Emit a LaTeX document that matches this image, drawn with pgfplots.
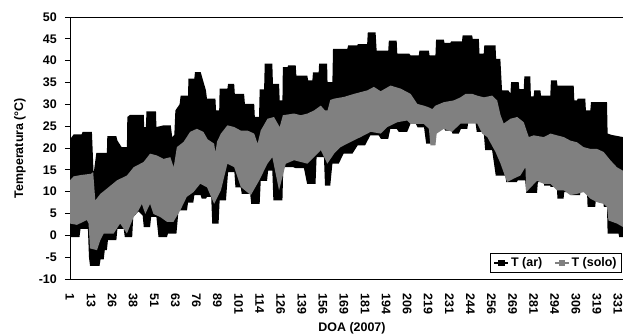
\documentclass[border=0pt]{standalone}
\usepackage{fontspec}
\setmainfont{Liberation Sans}
\usepackage{pgfplots}
\usepackage{pgfplotstable}
\pgfplotsset{compat=1.18}
\usepgfplotslibrary{fillbetween}
\definecolor{soil}{RGB}{128,128,128}

\pgfplotstableread{
x y
0 20.1
0.02 22.1
0.17 23.1
0.55 23.1
0.6 23.7
1.04 23.7
1.12 14.1
1.25 18.9
1.75 18.9
1.77 22.7
2.2 22.7
2.25 21.7
2.45 20.2
2.7 20.2
2.72 27.1
2.85 27.6
3.5 27.6
3.52 24.8
3.6 24.8
3.63 28.4
4.08 28.4
4.1 24.8
4.45 25.2
4.78 25.2
4.85 22.5
4.95 23.0
5.0 28.6
5.2 30.0
5.25 32.0
5.6 32.0
5.62 35.9
5.9 35.9
5.93 37.4
6.2 37.4
6.45 33.2
6.5 31.3
6.9 31.3
6.93 28.6
7.08 28.6
7.1 33.6
7.47 33.6
7.5 34.7
7.79 34.7
7.82 32.4
8.26 32.4
8.3 30.1
8.74 30.1
8.77 27.1
8.97 27.1
9.0 33.4
9.21 33.4
9.24 39.3
9.6 39.3
9.63 34.7
9.92 34.7
9.95 30.9
10.08 30.9
10.1 38.5
10.32 38.5
10.35 38.9
10.71 38.9
10.74 36.6
11.26 36.6
11.3 35.5
11.5 35.5
11.53 37.3
11.8 37.3
11.82 39.3
12.2 39.3
12.22 35.1
12.45 35.1
12.48 42.7
13.16 42.7
13.2 43.5
13.63 43.5
13.66 43.8
14.1 43.8
14.13 46.5
14.5 46.5
14.55 42.3
15.1 42.3
15.13 44.6
15.5 44.6
15.53 41.6
16.1 41.6
16.16 41.2
16.55 41.2
16.58 42.3
17.03 42.3
17.06 41.2
17.34 41.2
17.37 44.8
17.74 44.8
17.77 44.1
18.05 44.1
18.08 44.4
18.6 44.4
18.63 45.8
19.08 45.8
19.11 45.0
19.4 45.0
19.43 41.6
19.63 41.6
19.66 43.5
20.19 43.5
20.22 40.4
20.42 40.4
20.5 33.2
20.8 33.2
20.9 32.5
20.93 35.1
21.29 35.1
21.32 33.5
21.53 33.5
21.56 36.4
21.84 36.4
21.87 31.8
22.0 31.8
22.03 33.2
22.32 33.2
22.35 32.0
22.79 32.0
22.82 35.5
23.1 35.5
23.13 34.3
23.9 34.3
23.93 30.9
24.06 30.9
24.09 31.3
24.45 31.3
24.48 28.6
24.69 28.6
24.72 30.5
25.48 30.5
25.51 23.3
25.7 23.0
26.24 22.5
}\armax

\pgfplotstableread{
x y
0 -0.4
0.45 -0.4
0.5 1.5
0.85 1.5
0.9 -5.0
0.95 -7.0
1.4 -7.0
1.45 -5.5
1.6 -5.5
1.65 -3.4
1.75 -3.4
1.8 -1.1
2.2 -1.1
2.25 1.5
2.55 1.5
2.6 -0.4
2.95 -0.4
3.0 4.2
3.25 5.5
3.45 4.5
3.5 1.9
3.8 1.9
3.85 4.2
4.1 4.2
4.2 -0.4
4.6 -0.4
4.65 0.4
5.05 0.4
5.15 5.7
5.55 5.7
5.6 7.5
5.85 7.5
5.9 9.2
6.2 9.2
6.25 8.4
6.45 8.4
6.5 8.8
6.7 8.8
6.75 2.7
7.05 2.7
7.1 8.0
7.4 8.0
7.5 14.5
7.8 14.5
7.85 11.0
8.1 11.0
8.15 9.5
8.55 9.5
8.6 7.2
9.0 7.2
9.05 12.5
9.35 12.5
9.4 14.8
9.6 14.8
9.65 8.0
10.08 8.0
10.12 15.6
10.6 15.6
10.7 15.4
11.1 15.4
11.25 11.8
11.65 11.8
11.7 17.9
12.05 17.9
12.1 11.4
12.35 11.4
12.45 16.4
12.75 16.4
12.98 18.7
13.4 18.7
13.65 20.6
14.0 20.6
14.25 22.9
14.65 22.9
14.75 22.1
15.1 22.1
15.2 24.4
15.5 24.4
15.6 23.7
16.0 23.7
16.16 25.6
16.4 25.6
16.5 24.7
16.8 24.7
16.9 21.0
17.3 21.0
17.4 24.7
17.74 24.7
17.8 24.0
18.1 24.0
18.15 23.3
18.45 23.3
18.55 24.4
18.85 24.4
18.9 25.9
19.24 25.9
19.3 23.7
19.63 23.7
19.7 19.5
20.03 19.5
20.2 13.7
20.66 13.7
20.7 12.2
21.2 12.2
21.25 12.6
21.6 12.6
21.65 9.7
22.16 9.7
22.2 12.2
22.48 12.2
22.5 11.4
22.79 11.4
22.8 11.1
23.1 11.1
23.13 8.4
23.42 8.4
23.45 9.9
23.74 9.9
23.77 9.2
24.2 9.2
24.23 10.3
24.53 10.3
24.56 6.5
24.92 6.5
24.95 8.0
25.3 8.0
25.33 6.5
25.48 6.5
25.51 0.4
26.03 0.4
26.06 -0.4
26.24 -0.4
}\armin

\pgfplotstableread{
x y
0 12.6
0.17 13.5
0.5 13.8
1.0 14.1
1.1 14.5
1.2 8.0
1.44 9.5
1.75 10.7
2.23 12.6
2.7 13.7
3.02 15.6
3.49 16.8
3.8 18.7
4.12 18.3
4.44 17.5
4.76 17.9
4.92 15.6
5.07 20.2
5.39 21.4
5.7 23.7
6.02 24.4
6.33 23.7
6.53 22.0
6.84 21.0
6.9 19.0
6.98 21.5
7.16 23.3
7.47 25.2
7.79 24.8
8.1 24.0
8.42 24.0
8.74 23.3
8.9 21.0
9.05 24.0
9.37 26.7
9.68 27.1
9.95 24.8
10.1 27.5
10.63 27.9
10.95 27.5
11.27 27.9
11.58 28.6
11.9 29.7
12.1 28.6
12.22 28.6
12.35 31.0
12.53 31.3
13.0 31.7
13.48 32.4
14.11 33.2
14.42 34.0
14.74 33.0
15.21 34.3
15.69 33.6
16.16 32.4
16.48 30.1
16.79 29.7
17.03 29.3
17.19 28.9
17.34 29.7
17.74 30.5
18.21 30.9
18.53 31.6
18.77 32.4
19.08 32.4
19.32 32.0
19.64 31.6
20.03 32.0
20.27 30.9
20.43 27.5
20.58 25.6
20.9 26.7
21.22 27.1
21.53 25.9
21.77 22.5
22.0 22.9
22.48 22.5
22.8 23.3
23.11 22.9
23.43 22.5
23.74 21.7
24.06 21.3
24.37 20.2
24.69 19.8
25.0 19.8
25.32 19.1
25.64 17.2
25.95 15.6
26.24 14.8
}\solomax

\pgfplotstableread{
x y
0 2.7
0.33 2.4
0.8 3.5
0.88 2.7
0.95 -3.0
1.28 -3.4
1.44 -1.1
1.6 0.4
2.07 0.4
2.38 2.7
2.7 0.4
3.02 4.2
3.25 5.7
3.41 7.2
3.57 4.9
3.8 7.2
3.96 4.9
4.28 4.2
4.6 3.1
4.91 3.1
5.23 5.7
5.54 8.8
5.86 9.9
6.18 11.8
6.5 11.0
6.84 7.2
7.16 10.3
7.47 16.4
7.79 15.6
8.1 11.1
8.58 9.2
8.97 12.5
9.37 16.4
9.6 17.9
9.92 10.3
10.24 16.4
10.63 17.2
10.95 16.8
11.27 16.4
11.58 17.9
11.9 19.5
12.21 16.4
12.53 18.7
12.84 20.2
13.32 21.4
13.79 22.5
14.27 23.7
14.74 23.3
15.06 24.8
15.53 25.9
16.0 26.3
16.16 25.5
16.79 25.5
17.03 24.4
17.1 20.6
17.34 20.6
17.4 23.3
17.74 24.4
18.13 23.7
18.53 25.6
18.85 25.6
19.32 25.6
19.56 23.3
19.8 22.5
20.19 19.1
20.43 16.4
20.74 12.2
21.06 13.0
21.37 13.7
21.61 15.6
21.65 9.9
22.16 12.5
22.48 11.8
22.8 11.8
23.11 10.3
23.43 10.3
23.74 9.2
24.06 9.5
24.37 9.9
24.69 8.4
25.0 7.6
25.32 7.2
25.48 6.5
25.55 3.4
25.95 2.7
26.24 1.9
}\solomin

\begin{document}
\begin{tikzpicture}
\begin{axis}[
  at={(0,0)}, anchor=south west,
  width=553bp, height=262bp, scale only axis,
  xmin=0, xmax=26.24, ymin=-10, ymax=50,
  axis x line*=box, axis y line*=left,
  axis line style={-, black, line width=0.9bp},
  xtick={0,...,26},
  xticklabels={1,13,26,38,51,63,76,89,101,114,126,139,156,169,181,194,206,219,231,244,256,269,281,294,306,319,331},
  xtick style={draw=none},
  ytick={-10,-5,...,50},
  tick align=outside,
  major tick length=5bp,
  ytick style={black, line width=0.9bp},
  yticklabel pos=left, xticklabel pos=lower,
  /pgf/number format/assume math mode=true,
  tick label style={font=\bfseries\fontsize{12.5}{13}\selectfont},
  yticklabel style={inner sep=0pt, anchor=east},
  yticklabel shift=8bp,
  xticklabel style={rotate=-90, anchor=west, inner sep=0pt},
  xticklabel shift=9bp,
  xlabel={DOA (2007)}, ylabel={Temperatura (°C)},
  every axis x label/.style={at={(axis description cs:0.5,0)}, yshift=-49bp, xshift=5.5bp, anchor=center, font=\bfseries\fontsize{12.5}{14}\selectfont},
  every axis y label/.style={at={(axis description cs:0,0.5)}, xshift=-50bp, rotate=90, anchor=center, font=\bfseries\fontsize{12.5}{14}\selectfont},
  legend columns=2,
  legend image code/.code={\draw[mark repeat=2,mark phase=2,#1] plot coordinates {(0bp,0bp)(7bp,0bp)(14bp,0bp)};},
  legend style={at={(axis description cs:0.998,0.023)}, anchor=south east,
    font=\bfseries\fontsize{12.5}{14}\selectfont, draw=black, line width=0.6bp,
    inner xsep=3bp, inner ysep=2.5bp, cells={anchor=west},
    /tikz/every even column/.append style={column sep=10bp}},
]
\addplot[draw=none, name path=amax, forget plot] table {\armax};
\addplot[draw=none, name path=amin, forget plot] table {\armin};
\addplot[black, forget plot] fill between[of=amax and amin];
\addplot[draw=none, name path=smax, forget plot] table {\solomax};
\addplot[draw=none, name path=smin, forget plot] table {\solomin};
\addplot[soil, forget plot] fill between[of=smax and smin];
\fill[black] (rel axis cs:0,0) rectangle ([yshift=-4.5bp]rel axis cs:1,0);
\addlegendimage{black, line width=1.4bp, mark=square*, mark size=2.6bp}
\addlegendentry{T (ar)}
\addlegendimage{soil, line width=1.4bp, mark=square*, mark size=2.6bp}
\addlegendentry{T (solo)}
\end{axis}
\pgfresetboundingbox
\path[use as bounding box] (-70bp,-57bp) rectangle (553bp,279bp);
\end{tikzpicture}
\end{document}
